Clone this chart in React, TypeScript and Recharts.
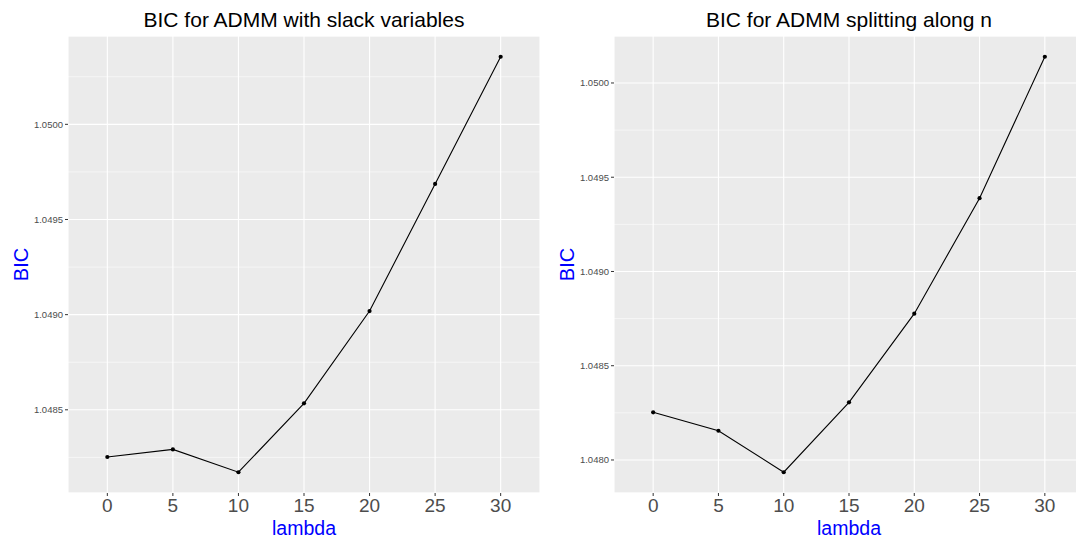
import React from "react";
import {
  LineChart,
  Line,
  XAxis,
  YAxis,
  CartesianGrid,
} from "recharts";

// lambda values on the x axis (treated like discrete levels)
const lambdas = [0, 5, 10, 15, 20, 25, 30];
const xTicks = [0, 5, 10, 15, 20, 25, 30];

// BIC for ADMM with slack variables
const bicSlack = [1.048252, 1.048292, 1.048172, 1.048534, 1.049019, 1.049687, 1.050355];
const yTicksSlack = [1.0485, 1.049, 1.0495, 1.05];
const yMinorSlack = [1.04825, 1.04875, 1.04925, 1.04975, 1.05025];

// BIC for ADMM splitting along n
const bicSplit = [1.048253, 1.048155, 1.047935, 1.048306, 1.048776, 1.049389, 1.050139];
const yTicksSplit = [1.048, 1.0485, 1.049, 1.0495, 1.05];
const yMinorSplit = [1.04825, 1.04875, 1.04925, 1.04975];

const FONT = '"Liberation Sans", Arial, Helvetica, sans-serif';
const PANEL_BG = "#EBEBEB";
const TICK_TEXT = "#4D4D4D";

// ggplot-like continuous expansion (5% of the data range on each side)
function expandRange(values: number[]): [number, number] {
  const lo = Math.min(...values);
  const hi = Math.max(...values);
  const pad = (hi - lo) * 0.05;
  return [lo - pad, hi + pad];
}

// discrete-style expansion: 0.6 of a level step on each side
function discreteRange(levels: number[]): [number, number] {
  const step = levels[1] - levels[0];
  return [levels[0] - 0.6 * step, levels[levels.length - 1] + 0.6 * step];
}

function YTitle(props: any) {
  const vb = props.viewBox || {};
  const x = vb.x + vb.width - 47;
  const y = vb.y + vb.height / 2;
  return (
    <text
      x={x}
      y={y}
      transform={`rotate(-90, ${x}, ${y})`}
      textAnchor="middle"
      dominantBaseline="central"
      fill="#0000FF"
      fontSize={20}
      fontFamily={FONT}
    >
      BIC
    </text>
  );
}

function XTitle(props: any) {
  const vb = props.viewBox || {};
  return (
    <text
      x={vb.x + vb.width / 2}
      y={vb.y + 42}
      textAnchor="middle"
      fill="#0000FF"
      fontSize={19.5}
      fontFamily={FONT}
    >
      lambda
    </text>
  );
}

type PanelProps = {
  title: string;
  values: number[];
  yTicks: number[];
  yMinor: number[];
  left: number;
  width: number;
  yAxisWidth: number;
  marginRight: number;
};

function Panel({ title, values, yTicks, yMinor, left, width, yAxisWidth, marginRight }: PanelProps) {
  const data = lambdas.map((l, i) => ({ lambda: l, bic: values[i] }));
  const yDomain = expandRange(values);
  const xDomain = discreteRange(lambdas);
  const plotLeft = yAxisWidth;
  const plotRight = width - marginRight;
  const titleCenter = left + (plotLeft + plotRight) / 2;

  return (
    <>
      <div
        style={{
          position: "absolute",
          left: titleCenter - 300,
          width: 600,
          top: 8,
          lineHeight: "24px",
          textAlign: "center",
          fontFamily: FONT,
          fontSize: 21,
          color: "#000",
          whiteSpace: "nowrap",
        }}
      >
        {title}
      </div>
      <div style={{ position: "absolute", left, top: 0 }}>
        <LineChart
          width={width}
          height={539}
          data={data}
          margin={{ top: 36, right: marginRight, bottom: 0, left: 0 }}
        >
          <CartesianGrid
            yAxisId="minor"
            vertical={false}
            fill={PANEL_BG}
            stroke="#FFFFFF"
            strokeWidth={0.55}
            strokeDasharray=""
          />
          <CartesianGrid
            stroke="#FFFFFF"
            strokeWidth={1.1}
            strokeDasharray=""
          />
          <XAxis
            dataKey="lambda"
            type="number"
            domain={xDomain}
            ticks={xTicks}
            allowDataOverflow
            interval={0}
            height={46}
            axisLine={false}
            tickLine={{ stroke: "#333333", strokeWidth: 1 }}
            tickSize={3}
            tickMargin={3}
            tick={{ fill: TICK_TEXT, fontSize: 19, fontFamily: FONT }}
            label={<XTitle />}
          />
          <YAxis
            type="number"
            domain={yDomain}
            ticks={yTicks}
            allowDataOverflow
            interval={0}
            width={yAxisWidth}
            axisLine={false}
            tickLine={{ stroke: "#333333", strokeWidth: 1 }}
            tickSize={3}
            tickMargin={2}
            tick={{ fill: TICK_TEXT, fontSize: 9.5, fontFamily: FONT }}
            tickFormatter={(v: number) => v.toFixed(4)}
            label={<YTitle />}
          />
          <YAxis
            yAxisId="minor"
            type="number"
            domain={yDomain}
            ticks={yMinor}
            allowDataOverflow
            interval={0}
            hide
          />
          <Line
            type="linear"
            dataKey="bic"
            stroke="#000000"
            strokeWidth={1.1}
            dot={{ r: 2.1, fill: "#000000", stroke: "#000000", strokeWidth: 0 }}
            activeDot={false}
            isAnimationActive={false}
          />
        </LineChart>
      </div>
    </>
  );
}

export default function App() {
  return (
    <div
      style={{
        position: "absolute",
        left: 0,
        top: 0,
        width: 1076,
        height: 539,
        overflow: "hidden",
        background: "#FFFFFF",
      }}
    >
      <Panel
        title="BIC for ADMM with slack variables"
        values={bicSlack}
        yTicks={yTicksSlack}
        yMinor={yMinorSlack}
        left={0}
        width={540}
        yAxisWidth={68}
        marginRight={0}
      />
      <Panel
        title="BIC for ADMM splitting along n"
        values={bicSplit}
        yTicks={yTicksSplit}
        yMinor={yMinorSplit}
        left={540}
        width={546}
        yAxisWidth={74}
        marginRight={2}
      />
    </div>
  );
}
